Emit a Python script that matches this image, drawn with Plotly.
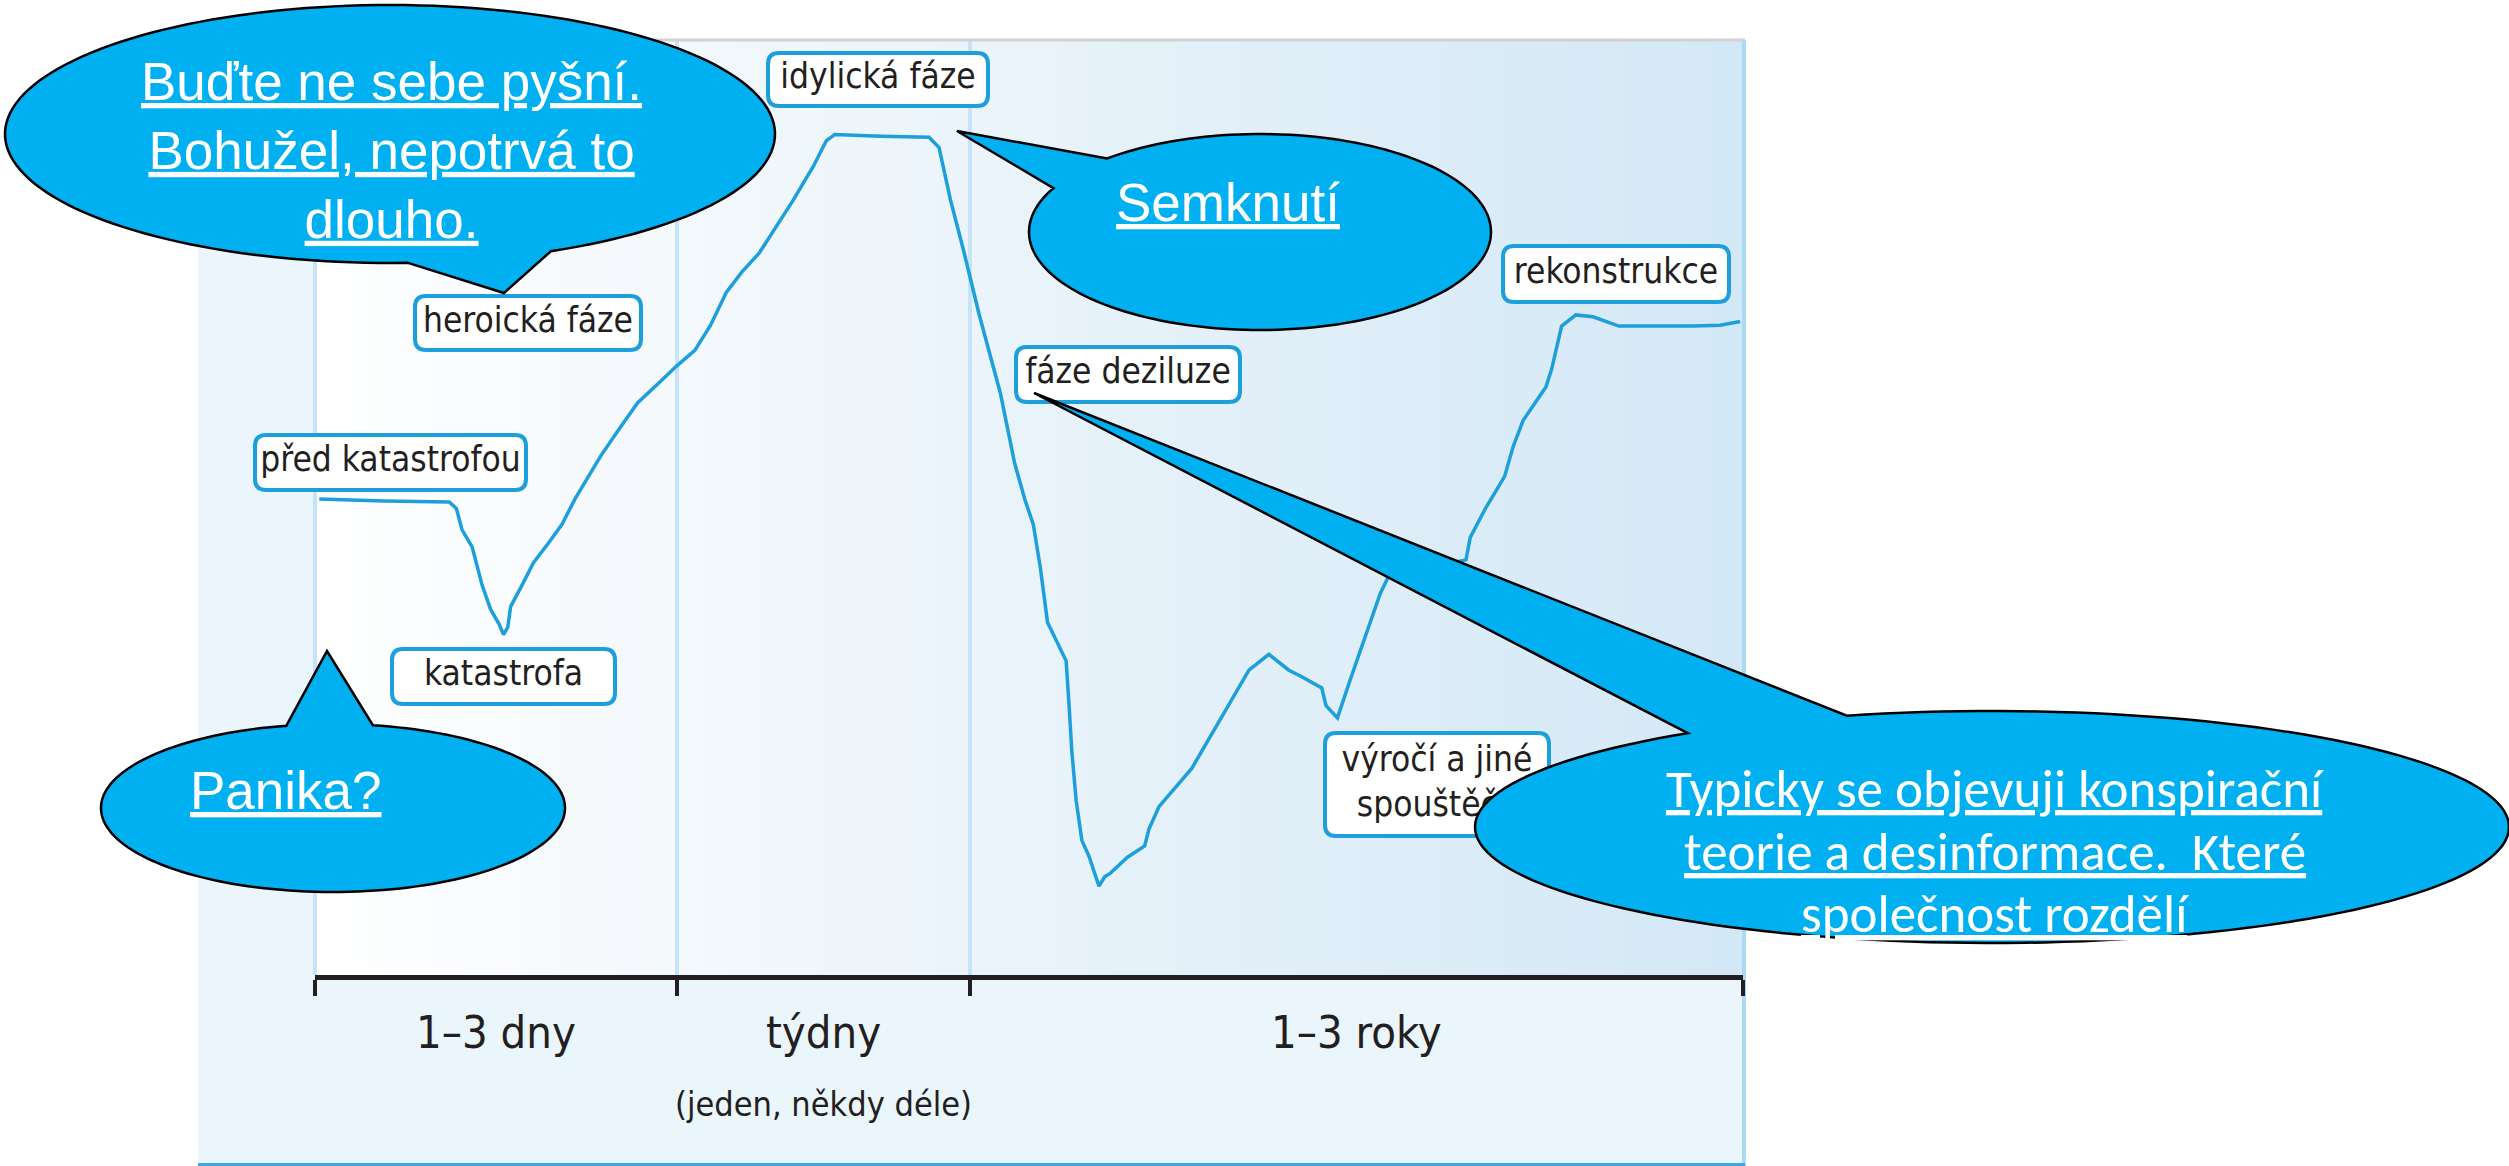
import numpy as np
import plotly.graph_objects as go

W, H = 2509, 1166

# ---------------- data ----------------
phase_labels = ["1–3 dny", "týdny", "1–3 roky"]
phase_notes = ["", "(jeden, někdy déle)", ""]
phase_bounds = [0, 25.35, 45.87, 100]

# relative time (0-100) and relative morale (0-100)
time = [0.3, 4.8, 9.4, 9.9, 10.3, 11.0, 11.7, 12.3, 12.9, 13.2, 13.5, 13.7, 14.5, 15.3,
        16.3, 17.3, 18.2, 20.0, 21.3, 22.6, 24.0, 25.3, 26.6, 27.7, 28.8, 29.9, 31.1,
        32.3, 33.5, 34.9, 35.8, 36.4, 39.6, 43.0, 43.7, 44.5, 45.4, 46.5, 48.0, 49.0,
        49.7, 50.3, 50.8, 51.3, 52.2, 52.6, 52.8, 53.0, 53.3, 53.7, 54.2, 54.9, 55.3,
        55.7, 56.9, 58.1, 58.4, 59.1, 61.4, 63.4, 65.4, 66.8, 68.2, 69.1, 70.5, 70.8,
        71.6, 72.5, 73.6, 74.6, 75.2, 80.6, 80.9, 82.0, 83.3, 83.9, 84.6, 86.2, 86.6,
        87.0, 87.3, 88.3, 89.5, 91.3, 96.5, 98.4, 99.8]
morale = [50.9, 50.7, 50.6, 49.9, 47.6, 45.8, 41.7, 39.1, 37.5, 36.4, 37.2, 39.4, 41.7, 44.1,
          46.1, 48.2, 50.9, 55.5, 58.4, 61.2, 63.2, 65.1, 66.8, 69.5, 73.0, 75.2, 77.2,
          80.0, 82.9, 86.5, 89.2, 89.9, 89.7, 89.6, 88.5, 82.9, 77.6, 70.7, 62.2, 54.7,
          50.9, 48.2, 43.5, 37.7, 35.0, 33.6, 29.0, 23.9, 18.7, 14.4, 12.7, 9.5, 10.5,
          10.9, 12.6, 13.8, 15.6, 18.0, 22.1, 27.3, 32.6, 34.3, 32.6, 31.9, 30.7, 28.8,
          27.5, 31.6, 36.5, 40.8, 42.7, 44.4, 46.8, 50.0, 53.3, 56.5, 59.3, 62.9, 64.8,
          67.5, 69.4, 70.6, 70.4, 69.4, 69.4, 69.5, 69.9]

stage_labels = ["před katastrofou", "katastrofa", "heroická fáze", "idylická fáze",
                "fáze deziluze", "výročí a jiné<br>spouštěče", "rekonstrukce"]

bubble_texts = ["Buďte ne sebe pyšní.<br>Bohužel, nepotrvá to<br>dlouho.",
                "Semknutí",
                "Panika?"]
big_bubble_lines = ["Typicky se objevuji konspirační",
                    "teorie a desinformace.\u00a0 Které",
                    "společnost rozdělí"]

# ---------------- layout geometry (pixels) ----------------
PX0, PX1 = 315, 1743      # plot area x extent
PY0, PY1 = 975, 40        # plot area y extent (bottom, top)
PANEL_L = 198


def fx(px):
    return px / W


def fy(py):
    return 1 - py / H


def dx(px):
    return (px - PX0) / (PX1 - PX0) * 100


def dy(py):
    return (PY0 - py) / (PY0 - PY1) * 100


label_boxes = [(255, 435, 526, 490), (392, 649, 615, 704), (415, 296, 641, 350),
               (768, 53, 988, 106), (1016, 347, 1240, 402), (1325, 733, 1549, 836),
               (1503, 246, 1729, 302)]

ARIAL = "Liberation Sans, Arial, sans-serif"
# bubbles: center, radii, tail base points, tail tip
bubbles = [
    dict(c=(390, 134), r=(385, 129), b1=(408, 263), b2=(552, 252), tip=(504, 293)),
    dict(c=(1260, 232), r=(231, 98), b1=(1106, 158), b2=(1053, 188), tip=(957, 131)),
    dict(c=(333, 808), r=(232, 84), b1=(286, 725), b2=(373, 725), tip=(327, 651)),
    dict(c=(1992, 827), r=(517, 116), b1=(1687, 733), b2=(1846, 715), tip=(1034, 393)),
]
bubble_text_pos = [(391, 150), (1228, 203), (286, 790)]
big_line_pos = [(1995, 789), (1995, 852), (1995, 914)]

NARROW = "DejaVu Sans Condensed, Liberation Sans Narrow, sans-serif"
INK = "#231F20"
LINE_BLUE = "#1C9FDA"
BUBBLE = "#00B0F0"


def pt(px, py):
    return f"{fx(px):.6f},{fy(py):.6f}"


def rounded_rect(x0, y0, x1, y1, r=10):
    return (f"M {pt(x0 + r, y0)} L {pt(x1 - r, y0)} Q {pt(x1, y0)} {pt(x1, y0 + r)} "
            f"L {pt(x1, y1 - r)} Q {pt(x1, y1)} {pt(x1 - r, y1)} L {pt(x0 + r, y1)} "
            f"Q {pt(x0, y1)} {pt(x0, y1 - r)} L {pt(x0, y0 + r)} Q {pt(x0, y0)} {pt(x0 + r, y0)} Z")


def bubble_path(c, r, b1, b2, tip, n=160):
    cx, cy = c
    rx, ry = r
    t1 = np.arctan2((b1[1] - cy) / ry, (b1[0] - cx) / rx)
    t2 = np.arctan2((b2[1] - cy) / ry, (b2[0] - cx) / rx)
    delta = ((t1 - t2 + np.pi) % (2 * np.pi)) - np.pi
    total = delta - np.sign(delta) * 2 * np.pi
    ts = t2 + np.linspace(0, 1, n) * total
    p = [f"M {pt(cx + rx * np.cos(t1), cy + ry * np.sin(t1))}", f"L {pt(*tip)}"]
    for t in ts:
        p.append(f"L {pt(cx + rx * np.cos(t), cy + ry * np.sin(t))}")
    p.append("Z")
    return " ".join(p)


shapes = []
# panel background (light blue)
shapes.append(dict(type="rect", xref="paper", yref="paper", layer="below",
                   x0=fx(PANEL_L), x1=fx(PX1), y0=fy(H), y1=fy(PY1),
                   fillcolor="#EAF5FC", line=dict(width=0)))
# gradient plot area white -> light blue
nb = 48
c0 = np.array([255, 255, 255])
c1 = np.array([211, 232, 246])
edges = np.linspace(PX0, PX1, nb + 1)
for i in range(nb):
    col = c0 + (c1 - c0) * (i + 0.5) / nb
    shapes.append(dict(type="rect", xref="paper", yref="paper", layer="below",
                       x0=fx(edges[i]), x1=fx(edges[i + 1] + 1), y0=fy(PY0), y1=fy(PY1),
                       fillcolor=f"rgb({int(col[0])},{int(col[1])},{int(col[2])})",
                       line=dict(width=0)))
# phase dividers
for b in [315, 677, 970]:
    shapes.append(dict(type="line", xref="paper", yref="paper", layer="below",
                       x0=fx(b), x1=fx(b), y0=fy(PY0), y1=fy(PY1),
                       line=dict(color="#C6E4F5", width=4)))
# panel borders
shapes.append(dict(type="line", xref="paper", yref="paper", layer="below",
                   x0=fx(PANEL_L), x1=fx(PX1 + 2), y0=fy(PY1), y1=fy(PY1),
                   line=dict(color="#D2D2D2", width=3)))
shapes.append(dict(type="line", xref="paper", yref="paper", layer="below",
                   x0=fx(PX1 + 1), x1=fx(PX1 + 1), y0=fy(PY1), y1=fy(H),
                   line=dict(color="#A9DAF2", width=4)))
shapes.append(dict(type="line", xref="paper", yref="paper", layer="below",
                   x0=fx(PANEL_L), x1=fx(PX1 + 2), y0=fy(H - 1.5), y1=fy(H - 1.5),
                   line=dict(color="#3FA9DF", width=3)))
# label boxes
for (x0, y0, x1, y1) in label_boxes:
    shapes.append(dict(type="path", xref="paper", yref="paper", layer="below",
                       path=rounded_rect(x0, y0, x1, y1, 11), fillcolor="white",
                       line=dict(color=LINE_BLUE, width=4)))
# speech bubbles (above traces)
for b in bubbles:
    shapes.append(dict(type="path", xref="paper", yref="paper", layer="above",
                       path=bubble_path(b["c"], b["r"], b["b1"], b["b2"], b["tip"]),
                       fillcolor=BUBBLE, line=dict(color="black", width=2.5)))

fig = go.Figure()
fig.add_trace(go.Scatter(x=time, y=morale, mode="lines",
                         line=dict(color=LINE_BLUE, width=3.5),
                         hoverinfo="skip", showlegend=False))

# stage label texts as a text trace (so the bubbles can cover them)
lx = [dx((b[0] + b[2]) / 2) for b in label_boxes]
ly = [dy((b[1] + b[3]) / 2) for b in label_boxes]
fig.add_trace(go.Scatter(x=lx, y=ly, mode="text", text=stage_labels,
                         textposition="middle center",
                         textfont=dict(family=NARROW, size=35, color=INK),
                         hoverinfo="skip", showlegend=False, cliponaxis=False))

annotations = []
for i, lab in enumerate(phase_labels):
    mid = (phase_bounds[i] + phase_bounds[i + 1]) / 2
    annotations.append(dict(x=mid, xref="x", y=fy(1032), yref="paper", text=lab,
                            showarrow=False, xanchor="center", yanchor="middle",
                            font=dict(family=NARROW, size=45, color=INK)))
    if phase_notes[i]:
        annotations.append(dict(x=mid, xref="x", y=fy(1104), yref="paper",
                                text=phase_notes[i], showarrow=False,
                                xanchor="center", yanchor="middle",
                                font=dict(family=NARROW, size=34, color=INK)))

for (tx, ty), txt in zip(bubble_text_pos, bubble_texts):
    annotations.append(dict(x=fx(tx), y=fy(ty), xref="paper", yref="paper",
                            text=txt, showarrow=False, xanchor="center", yanchor="middle",
                            align="center",
                            font=dict(family=ARIAL, size=53, color="white",
                                      lineposition="under")))
for (tx, ty), txt in zip(big_line_pos, big_bubble_lines):
    annotations.append(dict(x=fx(tx), y=fy(ty), xref="paper", yref="paper",
                            text=txt, showarrow=False, xanchor="center", yanchor="middle",
                            font=dict(family="Carlito, Lato, sans-serif", size=53,
                                      color="white", lineposition="under")))

fig.update_layout(
    width=W, height=H,
    margin=dict(l=0, r=0, t=0, b=0),
    paper_bgcolor="white", plot_bgcolor="rgba(0,0,0,0)",
    showlegend=False,
    shapes=shapes, annotations=annotations,
    xaxis=dict(domain=[fx(PX0), fx(PX1)], range=[0, 100], showgrid=False, zeroline=False,
               showline=True, linecolor=INK, linewidth=5, ticks="outside",
               tickvals=phase_bounds, ticklen=16, tickwidth=4, tickcolor=INK,
               showticklabels=False, fixedrange=True),
    yaxis=dict(domain=[fy(PY0), fy(PY1)], range=[0, 100], visible=False, fixedrange=True),
)

fig.write_html("out.html", config={"displayModeBar": False},
               post_script="document.body.style.margin='0';")
